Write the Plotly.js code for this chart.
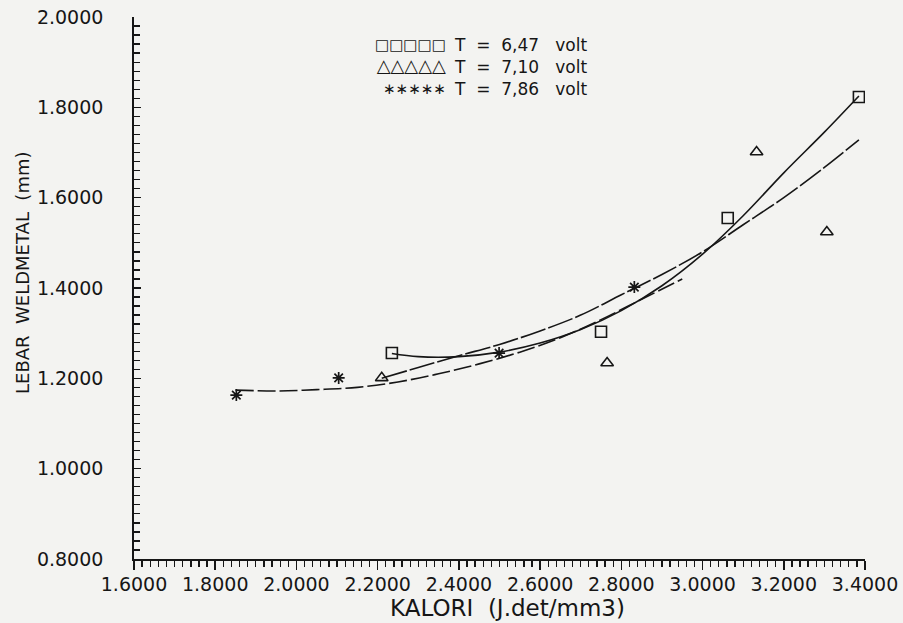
<!DOCTYPE html>
<html>
<head>
<meta charset="utf-8">
<script src="https://cdn.plot.ly/plotly-3.0.1.min.js"></script>
<style>html,body{margin:0;padding:0;background:#f3f3f1;}</style>
</head>
<body>
<div id="chart" style="width:903px;height:623px;"></div>
<script>
// ---- data ----
const sqX = [2.235, 2.750, 3.062, 3.385];
const sqY = [1.256, 1.303, 1.555, 1.823];
const triX = [2.210, 2.765, 3.133, 3.306];
const triY = [1.201, 1.234, 1.701, 1.524];
const starX = [1.852, 2.104, 2.499, 2.832];
const starY = [1.163, 1.201, 1.256, 1.402];

// fitted curves
const sqFitX = [2.235, 2.30, 2.40, 2.50, 2.60, 2.70, 2.80, 2.90, 3.00, 3.10, 3.20, 3.30, 3.385];
const sqFitY = [1.255, 1.248, 1.248, 1.258, 1.278, 1.308, 1.350, 1.405, 1.475, 1.560, 1.655, 1.745, 1.825];
const triFitX = [2.21, 2.30, 2.40, 2.50, 2.60, 2.70, 2.80, 2.90, 3.00, 3.10, 3.20, 3.30, 3.385];
const triFitY = [1.200, 1.224, 1.250, 1.275, 1.305, 1.340, 1.385, 1.430, 1.480, 1.540, 1.600, 1.667, 1.728];
const starFitX = [1.85, 1.95, 2.05, 2.15, 2.25, 2.35, 2.45, 2.55, 2.65, 2.75, 2.85, 2.95];
const starFitY = [1.174, 1.172, 1.175, 1.180, 1.192, 1.210, 1.232, 1.258, 1.290, 1.330, 1.375, 1.420];

const legendSymbols = ["\u25A1\u25A1\u25A1\u25A1\u25A1", "\u25B3\u25B3\u25B3\u25B3\u25B3", "\u2217\u2217\u2217\u2217\u2217"];
const legendSymbolSizes = [15, 18, 15];
const legendTexts = ["T  =  6,47   volt", "T  =  7,10   volt", "T  =  7,86   volt"];
const xTitle = "KALORI  (J.det/mm3)";
const yTitle = "LEBAR  WELDMETAL  (mm)";

const ink = "#161616";
const fontFam = "DejaVu Sans, Verdana, sans-serif";

const traces = [
  {x: sqFitX, y: sqFitY, mode: "lines", line: {color: ink, width: 1.6, shape: "spline"}, hoverinfo: "skip"},
  {x: triFitX, y: triFitY, mode: "lines", line: {color: ink, width: 1.6, shape: "spline", dash: "26px,3px"}, hoverinfo: "skip"},
  {x: starFitX, y: starFitY, mode: "lines", line: {color: ink, width: 1.6, shape: "spline", dash: "18px,4px"}, hoverinfo: "skip"},
  {x: sqX, y: sqY, mode: "markers", marker: {symbol: "square-open", size: 11, color: ink, line: {width: 1.6, color: ink}}},
  {x: triX, y: triY, mode: "markers", marker: {symbol: "triangle-up-open", size: 11, color: ink, line: {width: 1.6, color: ink}}},
  {x: starX, y: starY, mode: "markers", marker: {symbol: "asterisk-open", size: 10, color: ink, line: {width: 1.7, color: ink}}}
];

const nb = s => s.replace(/ /g, "\u00a0");
const symText = legendSymbols.map((s, i) => '<span style="font-size:' + legendSymbolSizes[i] + 'px">' + s + '</span>').join("<br>");
const legText = legendTexts.map(nb).join("<br>");
const legMid = (559 - 67) / 542;

const ann = [
  {xref: "paper", yref: "paper", x: (448 - 134) / 731, y: legMid, xanchor: "right", yanchor: "middle", align: "right",
    text: symText, showarrow: false, font: {family: fontFam, size: 17, color: ink}},
  {xref: "paper", yref: "paper", x: (452 - 134) / 731, y: legMid, xanchor: "left", yanchor: "middle", align: "left",
    text: legText, showarrow: false, font: {family: fontFam, size: 17, color: ink}},
  {xref: "paper", yref: "paper", x: (507 - 134) / 731, y: 0, yshift: -49, xanchor: "center", yanchor: "middle",
    text: nb(xTitle), showarrow: false, font: {family: fontFam, size: 23, color: ink}},
  {xref: "paper", yref: "paper", x: 0, xshift: -112, y: (559 - 273) / 542, xanchor: "center", yanchor: "middle",
    textangle: -90, text: nb(yTitle), showarrow: false, font: {family: fontFam, size: 18, color: ink}}
];

const layout = {
  width: 903, height: 623,
  margin: {l: 134, r: 38, t: 17, b: 64},
  paper_bgcolor: "#f3f3f1", plot_bgcolor: "#f3f3f1",
  showlegend: false,
  xaxis: {
    range: [1.6, 3.4], tick0: 1.6, dtick: 0.2, tickformat: ".4f",
    showline: true, linecolor: ink, linewidth: 1.8, showgrid: false, zeroline: false,
    ticks: "outside", ticklen: 9, tickwidth: 1.5, tickcolor: ink,
    minor: {dtick: 0.02, ticks: "outside", ticklen: 6, tickwidth: 1.3, tickcolor: ink, showgrid: false},
    tickfont: {family: fontFam, size: 19, color: ink}, ticklabelstandoff: -2
  },
  yaxis: {
    range: [0.8, 2.0], tick0: 0.8, dtick: 0.2, tickformat: ".4f",
    showline: true, linecolor: ink, linewidth: 1.8, showgrid: false, zeroline: false,
    ticks: "inside", ticklen: 7, tickwidth: 1.5, tickcolor: ink,
    minor: {dtick: 0.02, ticks: "inside", ticklen: 6, tickwidth: 1.3, tickcolor: ink, showgrid: false},
    tickfont: {family: fontFam, size: 19, color: ink}, ticklabelstandoff: 25
  },
  annotations: ann
};

Plotly.newPlot("chart", traces, layout, {staticPlot: true, displayModeBar: false});
</script>
</body>
</html>
